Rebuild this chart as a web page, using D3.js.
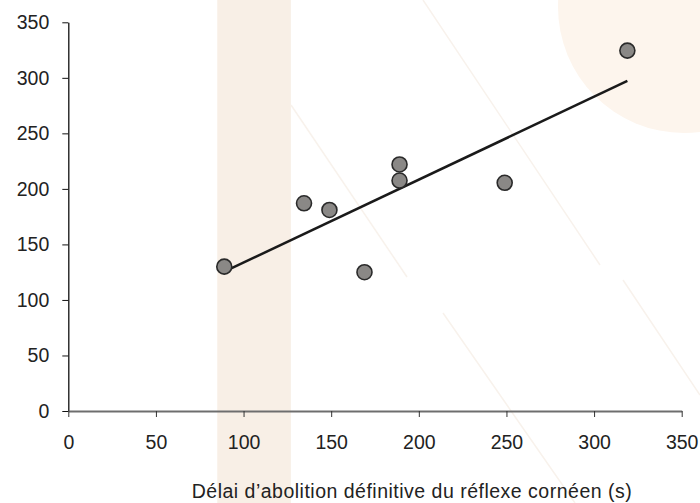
<!DOCTYPE html>
<html>
<head>
<meta charset="utf-8">
<script src="https://cdn.jsdelivr.net/npm/d3@7"></script>
<style>
  body { margin: 0; background: #fff; }
  svg { display: block; font-family: "Liberation Sans", Arial, sans-serif; }
</style>
</head>
<body>
<svg id="chart"></svg>
<script>
// measured values
var delaiReflexe = [89, 134.5, 149, 169, 189, 189, 249, 319];
var delaiDeces   = [130, 187, 181, 125, 222, 207.5, 205.5, 324.5];
var xTicks = [0, 50, 100, 150, 200, 250, 300, 350];
var yTicks = [0, 50, 100, 150, 200, 250, 300, 350];
var xTitle = "Délai d\u2019abolition définitive du réflexe cornéen (s)";

var width = 700, height = 503;

var svg = d3.select("#chart")
    .attr("width", width)
    .attr("height", height);

var x = d3.scaleLinear().domain([0, 350]).range([68.3, 681.7]);
var y = d3.scaleLinear().domain([0, 350]).range([411, 22.3]);

// background decorations
svg.append("rect")
    .attr("x", x(85)).attr("y", 0)
    .attr("width", x(127) - x(85)).attr("height", height)
    .attr("fill", "#f8efe6");

svg.append("circle")
    .attr("cx", 684).attr("cy", 7).attr("r", 126)
    .attr("fill", "#fdf5ed");

// faint diagonal streaks
var streaks = [[291, 105, 407, 277], [423, 0, 600, 265], [443, 313, 575, 503], [623, 280, 700, 395]];
svg.selectAll("line.streak")
    .data(streaks)
  .enter().append("line")
    .attr("class", "streak")
    .attr("x1", function(d) { return d[0]; })
    .attr("y1", function(d) { return d[1]; })
    .attr("x2", function(d) { return d[2]; })
    .attr("y2", function(d) { return d[3]; })
    .attr("stroke", "#f8f2ec")
    .attr("stroke-width", 1.5);

// y axis
var yAxis = svg.append("g")
    .attr("transform", "translate(" + x(0) + ",0)")
    .call(d3.axisLeft(y).tickValues(yTicks).tickSize(6).tickPadding(13).tickSizeOuter(0));
yAxis.select(".domain").attr("stroke", "#111").attr("stroke-width", 1.3);
yAxis.selectAll(".tick line").attr("stroke", "#111");
yAxis.selectAll("text").attr("font-size", 19.5).attr("fill", "#222")
    .attr("font-family", "Liberation Sans, Arial, sans-serif");

// x axis
var xAxis = svg.append("g")
    .attr("transform", "translate(0," + y(0) + ")")
    .call(d3.axisBottom(x).tickValues(xTicks).tickSize(6).tickPadding(18).tickSizeOuter(0));
xAxis.select(".domain").attr("stroke", "#6e6e6e").attr("stroke-width", 2);
xAxis.selectAll(".tick line").attr("stroke", "#333");
xAxis.selectAll("text").attr("font-size", 19.5).attr("fill", "#222")
    .attr("font-family", "Liberation Sans, Arial, sans-serif");

svg.append("text")
    .attr("x", 191.7).attr("y", 498.3)
    .attr("font-size", 19.5)
    .attr("fill", "#222")
    .attr("textLength", 440)
    .attr("lengthAdjust", "spacing")
    .text(xTitle);

// least squares fit
var n = delaiReflexe.length;
var mx = d3.mean(delaiReflexe), my = d3.mean(delaiDeces);
var sxy = 0, sxx = 0;
for (var i = 0; i < n; i++) {
  sxy += (delaiReflexe[i] - mx) * (delaiDeces[i] - my);
  sxx += (delaiReflexe[i] - mx) * (delaiReflexe[i] - mx);
}
var slope = sxy / sxx, intercept = my - slope * mx;
var xMin = d3.min(delaiReflexe), xMax = d3.max(delaiReflexe);

svg.append("line")
    .attr("x1", x(xMin)).attr("y1", y(intercept + slope * xMin))
    .attr("x2", x(xMax)).attr("y2", y(intercept + slope * xMax))
    .attr("stroke", "#1a1a1a")
    .attr("stroke-width", 2.5);

// points
svg.selectAll("circle.pt")
    .data(d3.range(n))
  .enter().append("circle")
    .attr("class", "pt")
    .attr("cx", function(i) { return x(delaiReflexe[i]); })
    .attr("cy", function(i) { return y(delaiDeces[i]); })
    .attr("r", 7.5)
    .attr("fill", "#8a8886")
    .attr("stroke", "#2a2a2a")
    .attr("stroke-width", 1.6);
</script>
</body>
</html>
